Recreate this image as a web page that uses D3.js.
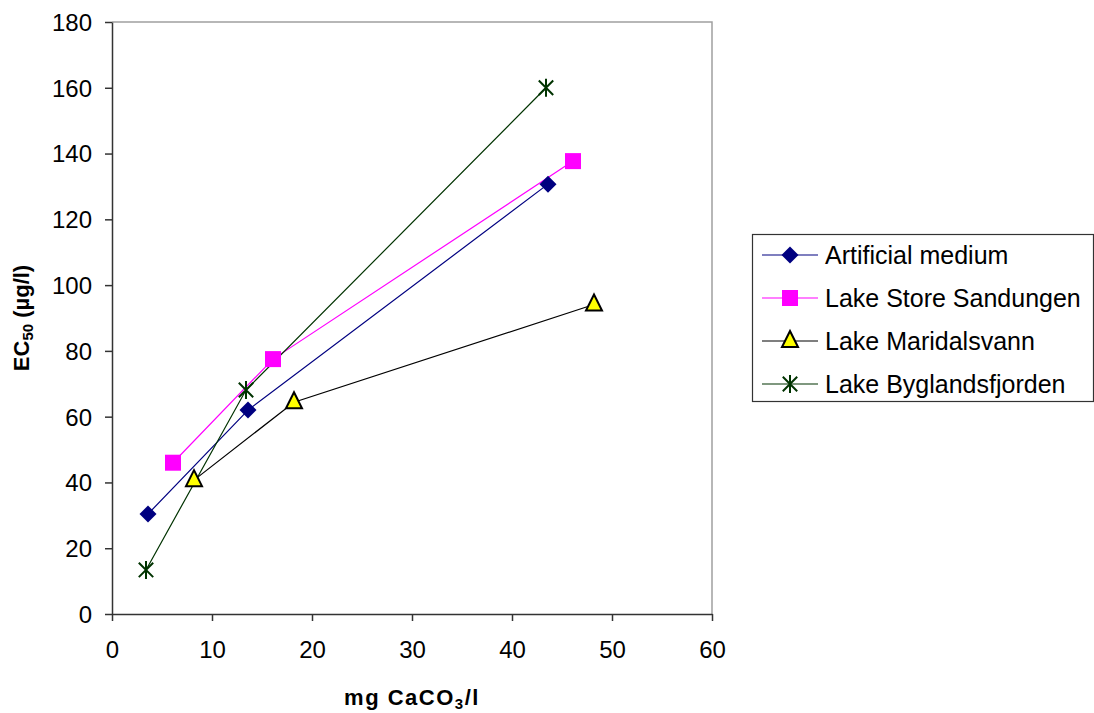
<!DOCTYPE html>
<html><head><meta charset="utf-8">
<script src="https://cdn.jsdelivr.net/npm/d3@7"></script>
<style>body{margin:0;background:#fff}svg{display:block}text{font-family:Arial,"Liberation Sans",sans-serif}</style>
</head><body><svg id="c" width="1094" height="713"></svg>
<script>
const seriesNames = ["Artificial medium","Lake Store Sandungen","Lake Maridalsvann","Lake Byglandsfjorden"];
const artificialX = [3.6, 13.6, 43.6];
const artificialY = [30.4, 62.0, 130.7];
const sandungenX = [6.1, 16.1, 46.1];
const sandungenY = [46.0, 77.5, 137.7];
const maridalsX = [8.2, 18.2, 48.2];
const maridalsY = [40.7, 64.4, 94.1];
const byglandsX = [3.4, 13.4, 43.4];
const byglandsY = [13.4, 68.1, 160.0];
const xTicks = [0,10,20,30,40,50,60];
const yTicks = [0,20,40,60,80,100,120,140,160,180];

const styles = [
  {line:"#000080", fill:"#000080", stroke:"none", shape:"diamond"},
  {line:"#FF00FF", fill:"#FF00FF", stroke:"none", shape:"square"},
  {line:"#000000", fill:"#FFFF00", stroke:"#000000", shape:"triangle"},
  {line:"#003300", fill:"none", stroke:"#003300", shape:"star"}
];
const series = [
  {xs:artificialX, ys:artificialY},
  {xs:sandungenX, ys:sandungenY},
  {xs:maridalsX, ys:maridalsY},
  {xs:byglandsX, ys:byglandsY}
];

const svg = d3.select("#c");
const L=112, R=712, T=22, B=614;
const x = d3.scaleLinear().domain([0,60]).range([L,R]);
const y = d3.scaleLinear().domain([0,180]).range([B,T]);

svg.append("path").attr("d",`M${L},${T}H${R}V${B}`).attr("fill","none").attr("stroke","#a0a0a0").attr("stroke-width",1.5);

const gx = svg.append("g").attr("transform",`translate(0,${B})`)
  .call(d3.axisBottom(x).tickValues(xTicks).tickSize(7).tickPadding(20).tickSizeOuter(0));
const gy = svg.append("g").attr("transform",`translate(${L},0)`)
  .call(d3.axisLeft(y).tickValues(yTicks).tickSize(7).tickPadding(13).tickSizeOuter(0));
[gx,gy].forEach(g=>{
  g.selectAll("path,line").attr("stroke","#333").attr("stroke-width",1.5);
  g.selectAll("text").attr("font-size","24px").attr("fill","#000").attr("font-family","Arial, 'Liberation Sans', sans-serif");
});
gy.selectAll("text").attr("dy","0.35em");

function marker(g, shape, st, cx, cy){
  if(shape==="diamond"){
    g.append("path").attr("d",`M${cx},${cy-8.5}L${cx+8.5},${cy}L${cx},${cy+8.5}L${cx-8.5},${cy}Z`).attr("fill",st.fill);
  } else if(shape==="square"){
    g.append("rect").attr("x",cx-8).attr("y",cy-8).attr("width",16).attr("height",16).attr("fill",st.fill);
  } else if(shape==="triangle"){
    g.append("path").attr("d",`M${cx},${cy-10}L${cx+8},${cy+6}L${cx-8},${cy+6}Z`).attr("fill",st.fill).attr("stroke",st.stroke).attr("stroke-width",2).attr("stroke-linejoin","miter");
  } else {
    const r=9;
    g.append("path").attr("d",`M${cx-r*0.8},${cy-r*0.8}L${cx+r*0.8},${cy+r*0.8}M${cx-r*0.8},${cy+r*0.8}L${cx+r*0.8},${cy-r*0.8}M${cx},${cy-r}V${cy+r}`)
      .attr("stroke",st.stroke).attr("stroke-width",2).attr("fill","none");
  }
}

const line = d3.line().x(d=>x(d[0])).y(d=>y(d[1]));
series.forEach((s,i)=>{
  const pts = s.xs.map((v,j)=>[v,s.ys[j]]);
  svg.append("path").attr("d",line(pts)).attr("fill","none").attr("stroke",styles[i].line).attr("stroke-width",1.2);
});
series.forEach((s,i)=>{
  const g = svg.append("g");
  s.xs.forEach((v,j)=>marker(g, styles[i].shape, styles[i], x(v), y(s.ys[j])));
});

const yt = svg.append("text").attr("transform",`translate(29,${(T+B)/2}) rotate(-90)`).attr("text-anchor","middle")
  .attr("font-size","22px").attr("font-weight","bold");
yt.append("tspan").text("EC");
yt.append("tspan").attr("font-size","15px").attr("dy","4").text("50");
yt.append("tspan").attr("dy","-4").text(" (µg/l)");

const xt = svg.append("text").attr("x",(L+R)/2).attr("y",705).attr("text-anchor","middle")
  .attr("font-size","22px").attr("font-weight","bold").attr("letter-spacing","1.5px");
xt.append("tspan").text("mg CaCO");
xt.append("tspan").attr("font-size","15px").attr("dy","4").text("3");
xt.append("tspan").attr("dy","-4").text("/l");

const lg = svg.append("g");
lg.append("rect").attr("x",752.5).attr("y",234.5).attr("width",341).attr("height",167).attr("fill","#fff").attr("stroke","#333").attr("stroke-width",1.2);
const ly = [255, 298, 341, 384];
seriesNames.forEach((n,i)=>{
  lg.append("line").attr("x1",762).attr("x2",818).attr("y1",ly[i]).attr("y2",ly[i]).attr("stroke",styles[i].line).attr("stroke-width",1.2);
  marker(lg, styles[i].shape, styles[i], 790, ly[i]);
  lg.append("text").attr("x",825).attr("y",ly[i]).attr("dy","0.35em").attr("font-size","25px").text(n);
});
</script></body></html>
